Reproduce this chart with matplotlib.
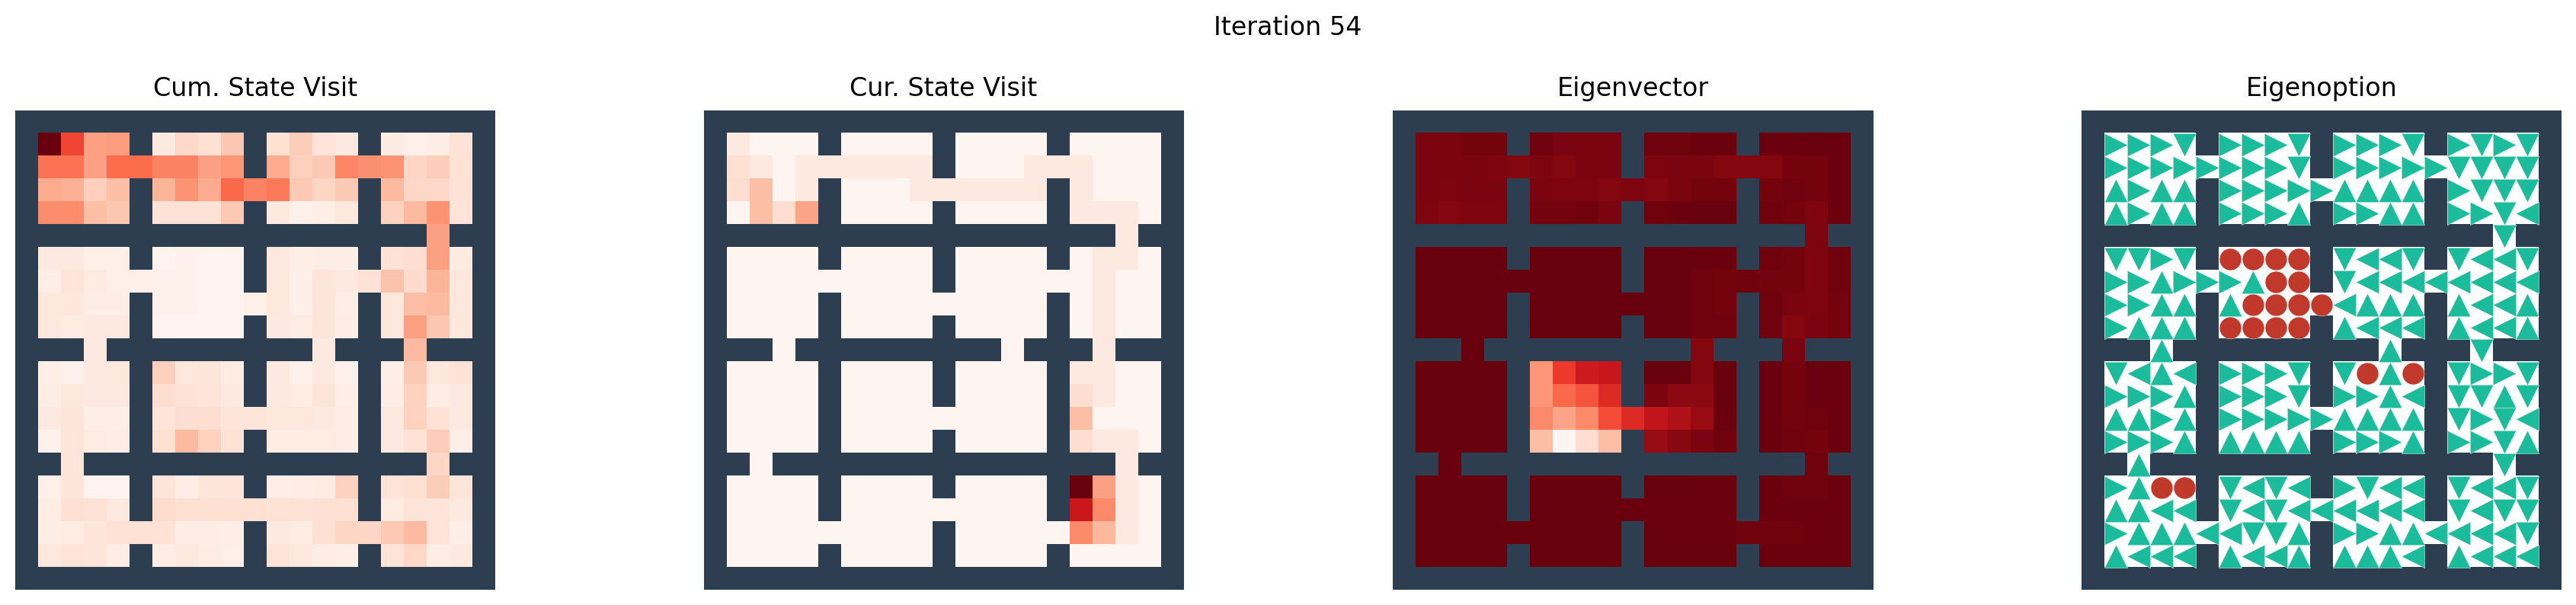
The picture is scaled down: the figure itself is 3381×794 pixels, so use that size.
import numpy as np
import matplotlib
matplotlib.use("Agg")
import matplotlib.pyplot as plt
from matplotlib.colors import ListedColormap

W_PX, H_PX, DPI = 3381, 794, 200
WALL = "#2c3e50"; TEAL = "#1abc9c"; RED = "#c0392b"

suptitle = "Iteration 54"
titles = ["Cum. State Visit", "Cur. State Visit", "Eigenvector", "Eigenoption"]

# the room/door layout, one string per row ('#' wall, '.' open)
maze = [
 "#####################",
 "#....#....#....#....#",
 "#.........#.........#",
 "#....#.........#....#",
 "#....#....#....#....#",
 "##################.##",
 "#....#....#....#....#",
 "#.........#.........#",
 "#....#.........#....#",
 "#....#....#....#....#",
 "###.#########.###.###",
 "#....#....#....#....#",
 "#....#....#....#....#",
 "#....#.........#....#",
 "#....#....#....#....#",
 "##.###############.##",
 "#....#....#....#....#",
 "#....#.........#....#",
 "#.........#.........#",
 "#....#....#....#....#",
 "#####################",
]

# values of the open cells of each row, left to right
cum_visit = [
 [1.0,.6,.33,.34, .07,.15,.12,.21, .12,.19,.1,.07, .06,.03,.05,.11],
 [.47,.47,.33,.49,.49, .42,.42,.33,.36, .3,.18,.2,.41,.38, .37,.16,.19,.11],
 [.3,.28,.18,.24, .27,.37,.3,.5,.42, .45,.2,.16,.2, .25,.15,.15,.11],
 [.39,.39,.24,.21, .11,.11,.11,.2, .07,.02,.04,.08, .17,.25,.37,.1],
 [.33],
 [.07,.07,.03,.03, .01,.02,.01,.01, .08,.04,.05,.05, .11,.13,.33,.06],
 [.04,.09,.06,.03,.03, .02,.02,.01,.01, .08,.03,.09,.07,.11, .22,.14,.27,.08],
 [.08,.08,.05,.05, .02,.02,.01,.01,.03, .08,.03,.09,.04, .08,.24,.25,.08],
 [.08,.06,.07,.07, .01,.01,.01,.01, .07,.06,.09,.05, .08,.33,.21,.08],
 [.07,.07,.25],
 [.04,.02,.07,.08, .18,.08,.09,.06, .07,.02,.07,.02, .04,.2,.08,.11],
 [.05,.08,.07,.07, .13,.11,.1,.07, .07,.06,.1,.04, .05,.17,.05,.07],
 [.07,.09,.04,.04, .09,.13,.13,.09,.09, .08,.08,.07,.05, .07,.17,.11,.07],
 [.02,.09,.06,.05, .12,.25,.17,.11, .06,.06,.06,.05, .07,.11,.19,.03],
 [.09,.16],
 [.03,.09,.01,.01, .09,.05,.09,.09, .04,.05,.06,.17, .1,.12,.19,.09],
 [.05,.12,.11,.07, .14,.12,.12,.12,.12, .11,.11,.12,.12, .06,.1,.1,.07],
 [.05,.06,.09,.11,.11, .11,.05,.05,.04, .07,.06,.12,.16,.16, .2,.25,.1,.04],
 [.08,.1,.09,.05, .05,.08,.06,.03, .1,.08,.05,.04, .1,.15,.05,.07],
]

cur_visit = [
 [.07,0,0,0, 0,0,0,0, 0,0,0,0, 0,0,0,0],
 [.12,.07,0,.07,.07, .07,.07,.07,.07, 0,0,0,.07,.07, .07,0,0,0],
 [.13,.24,0,.07, 0,0,0,.07,.07, .07,.07,.07,.07, .07,0,0,0],
 [0,.24,.13,.32, 0,0,0,0, 0,0,0,0, .07,.07,.07,0],
 [.07],
 [0,0,0,0, 0,0,0,0, 0,0,0,0, 0,.07,.07,0],
 [0,0,0,0,0, 0,0,0,0, 0,0,0,0,0, 0,.07,0,0],
 [0,0,0,0, 0,0,0,0,0, 0,0,0,0, 0,.07,0,0],
 [0,0,0,0, 0,0,0,0, 0,0,0,0, 0,.07,0,0],
 [0,0,.07],
 [0,0,0,0, 0,0,0,0, 0,0,0,0, .07,.07,0,0],
 [0,0,0,0, 0,0,0,0, 0,0,0,0, .13,.07,0,0],
 [0,0,0,0, 0,0,0,0,0, 0,0,0,0, .24,0,0,0],
 [0,0,0,0, 0,0,0,0, 0,0,0,0, .13,.07,.07,0],
 [0,.07],
 [0,0,0,0, 0,0,0,0, 0,0,0,0, 1.0,.33,.07,0],
 [0,0,0,0, 0,0,0,0,0, 0,0,0,0, .75,.4,.07,0],
 [0,0,0,0,0, 0,0,0,0, 0,0,0,0,0, .4,.26,.07,0],
 [0,0,0,0, 0,0,0,0, 0,0,0,0, 0,0,0,0],
]

eigenvector = [
 [.96,.96,.97,.97, .98,.96,.96,.96, .98,.98,.99,.99, .99,.99,1,.99],
 [.96,.96,.96,.95,.94, .95,.94,.96,.96, .95,.96,.96,.94,.94, .94,.97,.97,.99],
 [.96,.95,.96,.96, .96,.95,.95,.94,.95, .94,.96,.97,.97, .97,.98,.97,.99],
 [.95,.94,.95,.95, .97,.97,.98,.96, .98,.99,1,1, .98,.97,.95,.99],
 [.95],
 [1,1,1,1, 1,1,1,1, 1,1,.99,.99, .98,.97,.95,.98],
 [1,1,1,1,1, 1,1,1,1, 1,1,.98,.97,.98, .97,.97,.95,.98],
 [1,1,1,1, 1,1,1,1,1, 1,1,.98,.97, .98,.96,.95,.97],
 [1,1,1,1, 1,1,1,1, 1,1,.98,.98, .98,.94,.96,.97],
 [1,.94,.96],
 [1,1,1,1, .36,.63,.74,.76, 1,1,.94,1, .99,.97,.99,.99],
 [1,1,1,1, .36,.5,.56,.68, .96,.92,.92,1, .99,.97,.99,.99],
 [1,1,1,1, .4,.32,.4,.58,.68, .78,.84,.9,.99, .99,.97,.98,.99],
 [1,1,1,1, .24,0,.13,.24, .9,.93,.96,.98, .99,.98,.97,.99],
 [.99,.98],
 [1,1,1,1, 1,1,1,1, 1,1,.99,.99, .99,.98,.98,.99],
 [1,1,1,1, 1,1,1,1,.99, .99,.99,.99,.99, .99,.99,.99,.99],
 [1,1,1,1,1, 1,1,1,1, 1,.99,.99,.99,.98, .98,.98,.99,.99],
 [1,1,1,1, 1,1,1,1, 1,1,1,1, .99,.99,.99,.99],
]

# action of the open cells of each row: > < ^ v, o = terminal
eigenoption = [
 ">>>v>>>v>>>v>v>v",
 ">>>>>>>>v>>>>>vvvv",
 "^>^^>>>>>^^^^>vvv",
 "^>^^>>>^>>^^>>v<",
 "v",
 "vv>voooov<<vv<<v",
 ">>^>>>^oov<<<<<<<<",
 ">>^^^oooo<^^^^<<^",
 ">^^^oooo^<<<^<<^",
 "^^v",
 "v<^<>>>vvo^ov>>v",
 ">>>^>>>v>>^<vv^v",
 "^^>^>>>>>^^^^v>v<",
 ">>>^^^^^>>>^>>v^",
 "^v",
 ">^oov<v<>v<<v<<v",
 "^^<<v<v<<<<<<v<vv",
 ">^^^<<vv^>>^^<<<<v",
 "^<<<^<<^^^^<^<<<",
]

walls = np.array([[c == "#" for c in r] for r in maze])
open_rows = [r for r in range(walls.shape[0]) if not walls[r].all()]
n_rows, n_cols = walls.shape


def to_grid(rows):
    grid = np.full(walls.shape, np.nan)
    for r, vals in zip(open_rows, rows, strict=True):
        grid[r, ~walls[r]] = vals
    return grid


fig = plt.figure(figsize=(W_PX / DPI, H_PX / DPI), dpi=DPI)
lefts = [20, 923.5, 1828, 2732]
top, bottom, width = 144.5, 774.5, 630
axes = []
for left, title in zip(lefts, titles):
    ax = fig.add_axes([left / W_PX, 1 - bottom / H_PX, width / W_PX, (bottom - top) / H_PX])
    ax.set_title(title, fontsize=12, pad=6.8)
    ax.set_xticks([]); ax.set_yticks([])
    for s in ax.spines.values():
        s.set_visible(False)
    axes.append(ax)

reds = plt.get_cmap("Reds").copy()
reds.set_bad(WALL)
for ax, rows in zip(axes[:3], [cum_visit, cur_visit, eigenvector]):
    ax.imshow(to_grid(rows), cmap=reds, vmin=0, vmax=1, aspect="auto", interpolation="nearest")

ax = axes[3]
white = ListedColormap(["white"]); white.set_bad(WALL)
ax.imshow(np.ma.masked_where(walls, np.zeros(walls.shape)), cmap=white, aspect="auto", interpolation="nearest")
styles = {">": (">", TEAL, 120), "<": ("<", TEAL, 120), "^": ("^", TEAL, 120), "v": ("v", TEAL, 120), "o": ("o", RED, 108)}
for a, (marker, color, size) in styles.items():
    xs, ys = [], []
    for r, acts in zip(open_rows, eigenoption, strict=True):
        cols = np.flatnonzero(~walls[r])
        for c, act in zip(cols, acts, strict=True):
            if act == a:
                xs.append(c); ys.append(r)
    ax.scatter(xs, ys, marker=marker, s=size, c=color, edgecolors="white", linewidths=0.15,
               clip_on=False, zorder=3)
ax.set_xlim(-0.5, n_cols - 0.5); ax.set_ylim(n_rows - 0.5, -0.5)

fig.suptitle(suptitle, fontsize=12, x=0.5, y=1 - 36 / H_PX, va="center")
fig.savefig("out.png", dpi=DPI)
